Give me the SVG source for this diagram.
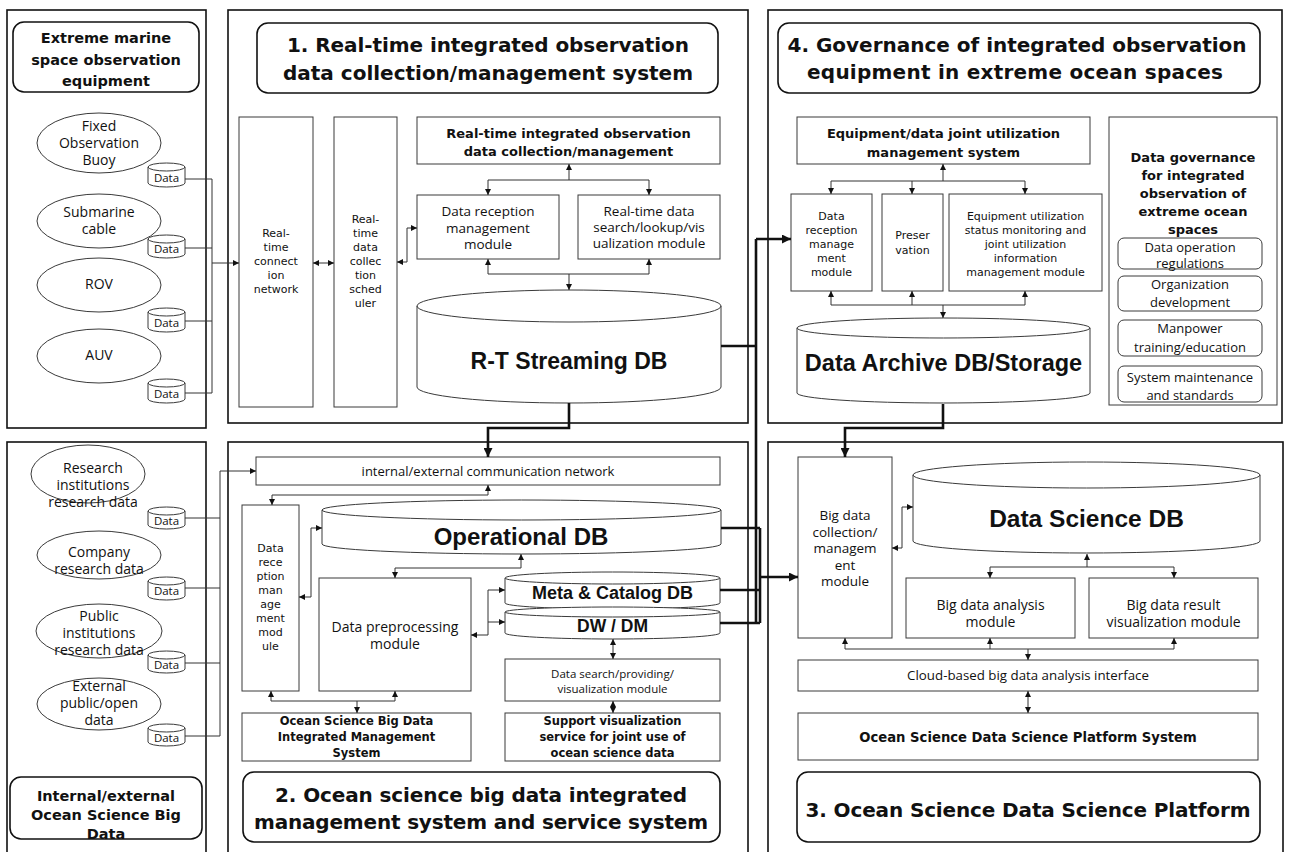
<svg xmlns="http://www.w3.org/2000/svg" width="1289" height="852" viewBox="0 0 1289 852">
<defs>
<style>
.panel{fill:none;stroke:#111;stroke-width:1.6}
.title{fill:#fff;stroke:#111;stroke-width:1.6}
.box{fill:#fff;stroke:#3a3a3a;stroke-width:1}
.ell{fill:#fff;stroke:#3a3a3a;stroke-width:1}
.db{fill:#fff;stroke:#3a3a3a;stroke-width:1}
.ln{fill:none;stroke:#333;stroke-width:1}
.thick{fill:none;stroke:#111;stroke-width:2.6}
text{fill:#111;text-anchor:middle;dominant-baseline:central}
.s{font-family:"Open Sans","Noto Sans",sans-serif}
.e{font-family:"Open Sans","Noto Sans",sans-serif;font-size:14px}
.n{font-family:"DejaVu Sans","Noto Sans",sans-serif;font-size:11px}
.b{font-family:"DejaVu Sans","Noto Sans",sans-serif;font-weight:700}
.d{font-family:"Liberation Sans",Arial,sans-serif;font-weight:700}
</style>
<marker id="ah" viewBox="0 0 10 10" refX="10" refY="5" markerWidth="6" markerHeight="6" markerUnits="userSpaceOnUse" orient="auto-start-reverse"><path d="M0,0 L10,5 L0,10 z" fill="#111"/></marker>
<marker id="AH" viewBox="0 0 10 10" refX="10" refY="5" markerWidth="10" markerHeight="9" markerUnits="userSpaceOnUse" orient="auto-start-reverse"><path d="M0,0 L10,5 L0,10 z" fill="#111"/></marker>
</defs>
<rect width="1289" height="852" fill="#fff"/>

<!-- ===== outer panels ===== -->
<g id="panels">
<rect class="panel" x="7" y="10" width="199" height="418"/>
<rect class="panel" x="228" y="10" width="520" height="413"/>
<rect class="panel" x="768" y="10" width="514" height="413"/>
<rect class="panel" x="7" y="442" width="199" height="420"/>
<rect class="panel" x="228" y="442" width="520" height="420"/>
<rect class="panel" x="768" y="442" width="515" height="420"/>
</g>

<!-- ===== section titles ===== -->
<g id="title-equipment">
<rect class="title" x="13" y="22" width="186" height="70" rx="11"/>
<text class="b" font-size="14.5"><tspan x="106" y="38">Extreme marine</tspan><tspan x="106" y="60">space observation</tspan><tspan x="106" y="81">equipment</tspan></text>
</g>
<g id="title-1">
<rect class="title" x="257" y="23" width="461" height="70" rx="11"/>
<text class="b" font-size="20"><tspan x="488" y="45" textLength="402">1. Real-time integrated observation</tspan><tspan x="488" y="73" textLength="410">data collection/management system</tspan></text>
</g>
<g id="title-4">
<rect class="title" x="778" y="23" width="482" height="70" rx="11"/>
<text class="b" font-size="20"><tspan x="1017" y="45" textLength="459">4. Governance of integrated observation</tspan><tspan x="1015" y="72" textLength="416">equipment in extreme ocean spaces</tspan></text>
</g>
<g id="title-bigdata">
<rect class="title" x="10" y="777" width="192" height="62" rx="11"/>
<text class="b" font-size="14.5"><tspan x="106" y="796">Internal/external</tspan><tspan x="106" y="815">Ocean Science Big</tspan><tspan x="106" y="834">Data</tspan></text>
</g>
<g id="title-2">
<rect class="title" x="243" y="772" width="477" height="70" rx="11"/>
<text class="b" font-size="20"><tspan x="481" y="795" textLength="412">2. Ocean science big data integrated</tspan><tspan x="481" y="822" textLength="454">management system and service system</tspan></text>
</g>
<g id="title-3">
<rect class="title" x="797" y="772" width="463" height="70" rx="11"/>
<text class="b" font-size="20"><tspan x="1028" y="810" textLength="445">3. Ocean Science Data Science Platform</tspan></text>
</g>

<!-- ===== observation equipment ===== -->
<g id="buoy"><ellipse class="ell" cx="99" cy="143" rx="62" ry="30"/><text class="e"><tspan x="99" y="125">Fixed</tspan><tspan x="99" y="142">Observation</tspan><tspan x="99" y="159">Buoy</tspan></text></g>
<g id="cable"><ellipse class="ell" cx="99" cy="221" rx="62" ry="27"/><text class="e"><tspan x="99" y="211">Submarine</tspan><tspan x="99" y="228">cable</tspan></text></g>
<g id="rov"><ellipse class="ell" cx="99" cy="285" rx="62" ry="27"/><text class="e" x="99" y="283">ROV</text></g>
<g id="auv"><ellipse class="ell" cx="99" cy="356" rx="62" ry="27"/><text class="e" x="99" y="354">AUV</text></g>

<g id="data-e1"><path class="db" d="M148,167 A18.5,4 0 0 1 185,167 V183 A18.5,4 0 0 1 148,183 Z M148,167 A18.5,4 0 0 0 185,167"/><text class="s" font-size="11.5" x="166.5" y="177">Data</text></g>
<g id="data-e2"><path class="db" d="M148,239 A18.5,4 0 0 1 185,239 V254 A18.5,4 0 0 1 148,254 Z M148,239 A18.5,4 0 0 0 185,239"/><text class="s" font-size="11.5" x="166.5" y="248">Data</text></g>
<g id="data-e3"><path class="db" d="M148,312 A18.5,4 0 0 1 185,312 V328 A18.5,4 0 0 1 148,328 Z M148,312 A18.5,4 0 0 0 185,312"/><text class="s" font-size="11.5" x="166.5" y="322">Data</text></g>
<g id="data-e4"><path class="db" d="M148,383 A18.5,4 0 0 1 185,383 V399 A18.5,4 0 0 1 148,399 Z M148,383 A18.5,4 0 0 0 185,383"/><text class="s" font-size="11.5" x="166.5" y="393">Data</text></g>

<!-- ===== internal/external big data sources ===== -->
<g id="research-inst"><ellipse class="ell" cx="88" cy="474" rx="57" ry="29"/><text class="e"><tspan x="93" y="467">Research</tspan><tspan x="93" y="484">institutions</tspan><tspan x="93" y="501">research data</tspan></text></g>
<g id="company"><ellipse class="ell" cx="99" cy="555" rx="62" ry="24"/><text class="e"><tspan x="99" y="551">Company</tspan><tspan x="99" y="568">research data</tspan></text></g>
<g id="public-inst"><ellipse class="ell" cx="99" cy="631" rx="63" ry="27"/><text class="e"><tspan x="99" y="615">Public</tspan><tspan x="99" y="632">institutions</tspan><tspan x="99" y="649">research data</tspan></text></g>
<g id="external-open"><ellipse class="ell" cx="99" cy="704" rx="62" ry="26"/><text class="e"><tspan x="99" y="685">External</tspan><tspan x="99" y="702">public/open</tspan><tspan x="99" y="719">data</tspan></text></g>

<g id="data-s1"><path class="db" d="M148,511 A18.5,4 0 0 1 185,511 V525 A18.5,4 0 0 1 148,525 Z M148,511 A18.5,4 0 0 0 185,511"/><text class="s" font-size="11.5" x="166.5" y="520">Data</text></g>
<g id="data-s2"><path class="db" d="M148,581 A18.5,4 0 0 1 185,581 V596 A18.5,4 0 0 1 148,596 Z M148,581 A18.5,4 0 0 0 185,581"/><text class="s" font-size="11.5" x="166.5" y="590">Data</text></g>
<g id="data-s3"><path class="db" d="M148,655 A18.5,4 0 0 1 185,655 V669 A18.5,4 0 0 1 148,669 Z M148,655 A18.5,4 0 0 0 185,655"/><text class="s" font-size="11.5" x="166.5" y="664">Data</text></g>
<g id="data-s4"><path class="db" d="M148,728 A18.5,4 0 0 1 185,728 V742 A18.5,4 0 0 1 148,742 Z M148,728 A18.5,4 0 0 0 185,728"/><text class="s" font-size="11.5" x="166.5" y="737">Data</text></g>

<!-- ===== 1. real-time collection system ===== -->
<g id="rt-network"><rect class="box" x="239" y="117" width="74" height="290"/><text class="n"><tspan x="276" y="233">Real-</tspan><tspan x="276" y="247">time</tspan><tspan x="276" y="261">connect</tspan><tspan x="276" y="275">ion</tspan><tspan x="276" y="289">network</tspan></text></g>
<g id="rt-scheduler"><rect class="box" x="334" y="117" width="63" height="290"/><text class="n"><tspan x="365.5" y="219">Real-</tspan><tspan x="365.5" y="233">time</tspan><tspan x="365.5" y="247">data</tspan><tspan x="365.5" y="261">collec</tspan><tspan x="365.5" y="275">tion</tspan><tspan x="365.5" y="289">sched</tspan><tspan x="365.5" y="303">uler</tspan></text></g>
<g id="rt-management"><rect class="box" x="417" y="117" width="303" height="47"/><text class="b" font-size="13"><tspan x="568.5" y="133">Real-time integrated observation</tspan><tspan x="568.5" y="151">data collection/management</tspan></text></g>
<g id="rt-reception"><rect class="box" x="417" y="195" width="142" height="64"/><text class="s" font-size="13.5"><tspan x="488" y="211">Data reception</tspan><tspan x="488" y="228">management</tspan><tspan x="488" y="244">module</tspan></text></g>
<g id="rt-search"><rect class="box" x="578" y="195" width="142" height="64"/><text class="s" font-size="13.5"><tspan x="649" y="211">Real-time data</tspan><tspan x="649" y="227">search/lookup/vis</tspan><tspan x="649" y="243">ualization module</tspan></text></g>
<g id="rt-streaming-db"><path class="db" d="M417,306 A152,16 0 0 1 721,306 V387 A152,16 0 0 1 417,387 Z M417,306 A152,16 0 0 0 721,306"/><text class="d" font-size="23" x="569" y="361">R-T Streaming DB</text></g>

<!-- ===== 4. governance ===== -->
<g id="joint-use-system"><rect class="box" x="797" y="117" width="293" height="47"/><text class="b" font-size="13"><tspan x="943.5" y="133">Equipment/data joint utilization</tspan><tspan x="943.5" y="152">management system</tspan></text></g>
<g id="gov-reception"><rect class="box" x="791" y="194" width="81" height="97"/><text class="n"><tspan x="831.5" y="216">Data</tspan><tspan x="831.5" y="230">reception</tspan><tspan x="831.5" y="244">manage</tspan><tspan x="831.5" y="258">ment</tspan><tspan x="831.5" y="272">module</tspan></text></g>
<g id="preservation"><rect class="box" x="882" y="194" width="61" height="97"/><text class="n"><tspan x="912.5" y="235">Preser</tspan><tspan x="912.5" y="250">vation</tspan></text></g>
<g id="utilization-monitor"><rect class="box" x="949" y="194" width="153" height="97"/><text class="n"><tspan x="1025.5" y="216">Equipment utilization</tspan><tspan x="1025.5" y="230">status monitoring and</tspan><tspan x="1025.5" y="244">joint utilization</tspan><tspan x="1025.5" y="258">information</tspan><tspan x="1025.5" y="272">management module</tspan></text></g>
<g id="archive-db"><path class="db" d="M797,328 A146.5,10 0 0 1 1090,328 V393 A146.5,10 0 0 1 797,393 Z M797,328 A146.5,10 0 0 0 1090,328"/><text class="d" font-size="23.5" x="943.5" y="363">Data Archive DB/Storage</text></g>
<g id="data-governance">
<rect class="box" x="1109" y="117" width="168" height="288"/>
<text class="b" font-size="13"><tspan x="1193" y="157">Data governance</tspan><tspan x="1193" y="175">for integrated</tspan><tspan x="1193" y="193">observation of</tspan><tspan x="1193" y="211">extreme ocean</tspan><tspan x="1193" y="229">spaces</tspan></text>
<rect class="box" x="1118" y="238" width="144" height="31" rx="6"/>
<text class="s" font-size="13"><tspan x="1190" y="247">Data operation</tspan><tspan x="1190" y="263">regulations</tspan></text>
<rect class="box" x="1118" y="276" width="144" height="35" rx="6"/>
<text class="s" font-size="13"><tspan x="1190" y="284">Organization</tspan><tspan x="1190" y="302">development</tspan></text>
<rect class="box" x="1118" y="320" width="144" height="36" rx="6"/>
<text class="s" font-size="13"><tspan x="1190" y="328">Manpower</tspan><tspan x="1190" y="347">training/education</tspan></text>
<rect class="box" x="1118" y="366" width="144" height="36" rx="6"/>
<text class="s" font-size="13"><tspan x="1190" y="377">System maintenance</tspan><tspan x="1190" y="395">and standards</tspan></text>
</g>

<!-- ===== 2. integrated management / service ===== -->
<g id="comm-network"><rect class="box" x="256" y="457" width="464" height="28"/><text class="s" font-size="13" x="488" y="471">internal/external communication network</text></g>
<g id="bd-reception"><rect class="box" x="242" y="505" width="57" height="186"/><text class="n"><tspan x="270.5" y="548">Data</tspan><tspan x="270.5" y="562">rece</tspan><tspan x="270.5" y="576">ption</tspan><tspan x="270.5" y="590">man</tspan><tspan x="270.5" y="604">age</tspan><tspan x="270.5" y="618">ment</tspan><tspan x="270.5" y="632">mod</tspan><tspan x="270.5" y="646">ule</tspan></text></g>
<g id="operational-db"><path class="db" d="M322,510 A199.5,10 0 0 1 721,510 V544 A199.5,10 0 0 1 322,544 Z M322,510 A199.5,10 0 0 0 721,510"/><text class="d" font-size="24" x="521" y="536">Operational DB</text></g>
<g id="preprocessing"><rect class="box" x="319" y="578" width="152" height="113"/><text class="s" font-size="14"><tspan x="395" y="626">Data preprocessing</tspan><tspan x="395" y="643">module</tspan></text></g>
<g id="meta-catalog-db"><path class="db" d="M505,578 A107.5,6 0 0 1 720,578 V603 A107.5,6 0 0 1 505,603 Z M505,578 A107.5,6 0 0 0 720,578"/><text class="d" font-size="18" x="612.5" y="593">Meta &amp; Catalog DB</text></g>
<g id="dw-dm"><path class="db" d="M505,612 A107.5,5 0 0 1 720,612 V633 A107.5,6 0 0 1 505,633 Z M505,612 A107.5,5 0 0 0 720,612"/><text class="d" font-size="17.5" x="612.5" y="626">DW / DM</text></g>
<g id="search-provide"><rect class="box" x="505" y="659" width="215" height="42"/><text class="s" font-size="11.5"><tspan x="612.5" y="673">Data search/providing/</tspan><tspan x="612.5" y="688">visualization module</tspan></text></g>
<g id="bd-system"><rect class="box" x="242" y="713" width="229" height="48"/><text class="b" font-size="11.5"><tspan x="356.5" y="721">Ocean Science Big Data</tspan><tspan x="356.5" y="737">Integrated Management</tspan><tspan x="356.5" y="753">System</tspan></text></g>
<g id="vis-service"><rect class="box" x="505" y="713" width="215" height="48"/><text class="b" font-size="11.5"><tspan x="612.5" y="721">Support visualization</tspan><tspan x="612.5" y="737">service for joint use of</tspan><tspan x="612.5" y="753">ocean science data</tspan></text></g>

<!-- ===== 3. data science platform ===== -->
<g id="bd-collection"><rect class="box" x="798" y="457" width="94" height="181"/><text class="s" font-size="13.5"><tspan x="845" y="515">Big data</tspan><tspan x="845" y="532">collection/</tspan><tspan x="845" y="548">managem</tspan><tspan x="845" y="565">ent</tspan><tspan x="845" y="581">module</tspan></text></g>
<g id="data-science-db"><path class="db" d="M913,475 A173.5,13 0 0 1 1260,475 V541 A173.5,12 0 0 1 913,541 Z M913,475 A173.5,13 0 0 0 1260,475"/><text class="d" font-size="24.5" x="1086.5" y="518">Data Science DB</text></g>
<g id="bd-analysis"><rect class="box" x="906" y="578" width="169" height="60"/><text class="s" font-size="14"><tspan x="990.5" y="604">Big data analysis</tspan><tspan x="990.5" y="621">module</tspan></text></g>
<g id="bd-result-vis"><rect class="box" x="1089" y="578" width="169" height="60"/><text class="s" font-size="14"><tspan x="1173.5" y="604">Big data result</tspan><tspan x="1173.5" y="621">visualization module</tspan></text></g>
<g id="cloud-interface"><rect class="box" x="798" y="660" width="460" height="31"/><text class="s" font-size="13.3" x="1028" y="675">Cloud-based big data analysis interface</text></g>
<g id="platform-system"><rect class="box" x="798" y="713" width="460" height="47"/><text class="b" font-size="13.2" x="1028" y="737">Ocean Science Data Science Platform System</text></g>

<!-- ===== connectors ===== -->
<g id="connectors">
<!-- equipment data feeds -->
<path class="ln" d="M185,179 H212 M185,248 H212 M185,321 H212 M185,393 H212 M212,179 V393"/>
<path class="ln" d="M212,263 H239" marker-end="url(#ah)"/>
<!-- big data source feeds -->
<path class="ln" d="M185,518 H220 M185,588 H220 M185,663 H220 M185,736 H220 M220,471 V736"/>
<path class="ln" d="M220,471 H256" marker-end="url(#ah)"/>

<!-- real-time system internals -->
<path class="ln" d="M313,263 H334" marker-start="url(#ah)" marker-end="url(#ah)"/>
<path class="ln" d="M417,228 H407 V262 H397" marker-start="url(#ah)" marker-end="url(#ah)"/>
<path class="ln" d="M569,180 V164" marker-end="url(#ah)"/>
<path class="ln" d="M488,195 V180 H649 V195" marker-start="url(#ah)" marker-end="url(#ah)"/>
<path class="ln" d="M488,259 V274 H649 V259" marker-start="url(#ah)" marker-end="url(#ah)"/>
<path class="ln" d="M569,274 V290" marker-end="url(#ah)"/>

<!-- governance internals -->
<path class="ln" d="M943,181 V164" marker-end="url(#ah)"/>
<path class="ln" d="M831,194 V181 H1025 V194" marker-start="url(#ah)" marker-end="url(#ah)"/>
<path class="ln" d="M912,181 V194" marker-end="url(#ah)"/>
<path class="ln" d="M831,291 V305 H1025 V291" marker-start="url(#ah)" marker-end="url(#ah)"/>
<path class="ln" d="M912,305 V291" marker-end="url(#ah)"/>
<path class="ln" d="M943,305 V318" marker-end="url(#ah)"/>

<!-- integrated management internals -->
<path class="ln" d="M272,505 V495 H488 V485" marker-start="url(#ah)" marker-end="url(#ah)"/>
<path class="ln" d="M322,528 H311 V597 H299" marker-start="url(#ah)" marker-end="url(#ah)"/>
<path class="ln" d="M521,554 V568 H395 V578" marker-start="url(#ah)" marker-end="url(#ah)"/>
<path class="ln" d="M471,635 H488 V590 H505" marker-start="url(#ah)" marker-end="url(#ah)"/>
<path class="ln" d="M488,622 H505" marker-end="url(#ah)"/>
<path class="ln" d="M613,639 V659" marker-start="url(#ah)" marker-end="url(#ah)"/>
<path class="ln" d="M613,701 V713" marker-start="url(#ah)" marker-end="url(#ah)"/>
<path class="ln" d="M271,691 V701 H395 V691" marker-start="url(#ah)" marker-end="url(#ah)"/>
<path class="ln" d="M357,701 V713" marker-end="url(#ah)"/>

<!-- data science platform internals -->
<path class="ln" d="M913,507 H902 V548 H892" marker-start="url(#ah)" marker-end="url(#ah)"/>
<path class="ln" d="M1087,567 V554" marker-end="url(#ah)"/>
<path class="ln" d="M990,578 V567 H1174 V578" marker-start="url(#ah)" marker-end="url(#ah)"/>
<path class="ln" d="M845,638 V649 H1174 V638" marker-start="url(#ah)" marker-end="url(#ah)"/>
<path class="ln" d="M990,649 V638" marker-end="url(#ah)"/>
<path class="ln" d="M1028,649 V660" marker-end="url(#ah)"/>
<path class="ln" d="M1028,691 V713" marker-start="url(#ah)" marker-end="url(#ah)"/>

<!-- inter-system trunks -->
<path class="thick" d="M569,403 V428 H488 V457" marker-end="url(#AH)"/>
<path class="thick" d="M943,404 V428 H845 V457" marker-end="url(#AH)"/>
<path class="thick" d="M721,346 H756 M756,239 V623"/>
<path class="thick" d="M756,239 H791" marker-end="url(#AH)"/>
<path class="thick" d="M721,528 H760 M720,590 H760 M720,623 H760 M760,528 V623"/>
<path class="thick" d="M760,577 H798" marker-end="url(#AH)"/>
</g>
</svg>
